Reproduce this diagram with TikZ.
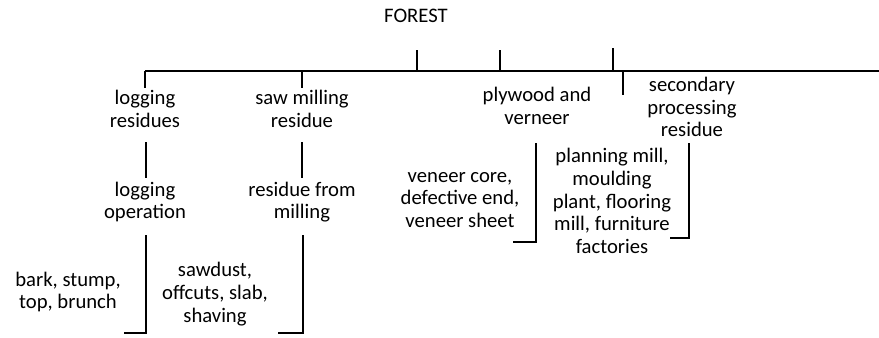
\documentclass[tikz,border=0pt]{standalone}
\usepackage{fontspec}
\setmainfont{Carlito}
\usetikzlibrary{positioning}

\begin{document}
\begin{tikzpicture}[x=0.75pt, y=-0.75pt,
  lbl/.style={align=center, inner sep=0, font=\fontsize{15.5}{17}\selectfont},
  bar/.style={line width=1.5pt}]

  \useasboundingbox (0,0) rectangle (879,337);

  % Root
  \node[lbl, anchor=base] (forest) at (416,22) {FOREST};

  % Main line with ticks
  \coordinate (mainL) at (145,71);
  \coordinate (mainR) at (879,71);
  \draw[bar] (mainL) -- (mainR);
  \foreach \x/\t in {417/50, 500/50, 613/48} {
    \draw[bar] (\x,71) -- (\x,\t);
  }
  \draw[bar] (623,71) -- (623,95);

  % Residue groups
  \node[lbl] (logres) at (145,109) {logging\\residues};
  \node[lbl] (sawres) at (302,109) {saw milling\\residue};
  \node[lbl] (plyres) at (537,106) {plywood and\\verneer};
  \node[lbl] (secres) at (692,107) {secondary\\processing\\residue};

  \draw[bar] (mainL) -- (145,88);
  \draw[bar] (302,71) -- (302,88);

  % Sources
  \node[lbl] (logop) at (145,202) {logging\\operation};
  \node[lbl] (sawop) at (302,202) {residue from\\milling};

  \draw[bar] (146,142) -- (146,178);
  \draw[bar] (302,142) -- (302,178);

  % Kinds of residue
  \node[lbl] (logkind) at (68,292) {bark, stump,\\top, brunch};
  \node[lbl] (sawkind) at (215,294) {sawdust,\\offcuts, slab,\\shaving};
  \node[lbl] (plykind) at (460,200) {veneer core,\\defective end,\\veneer sheet};
  \node[lbl] (seckind) at (612,201) {planning mill,\\moulding\\plant, flooring\\mill, furniture\\factories};

  % Brackets
  \draw[bar] (146,235) -- (146,333) -- (124,333);
  \draw[bar] (303,235) -- (303,333) -- (278,333);
  \draw[bar] (536,143) -- (536,242) -- (513,242);
  \draw[bar] (689,143) -- (689,238) -- (670,238);

\end{tikzpicture}
\end{document}
